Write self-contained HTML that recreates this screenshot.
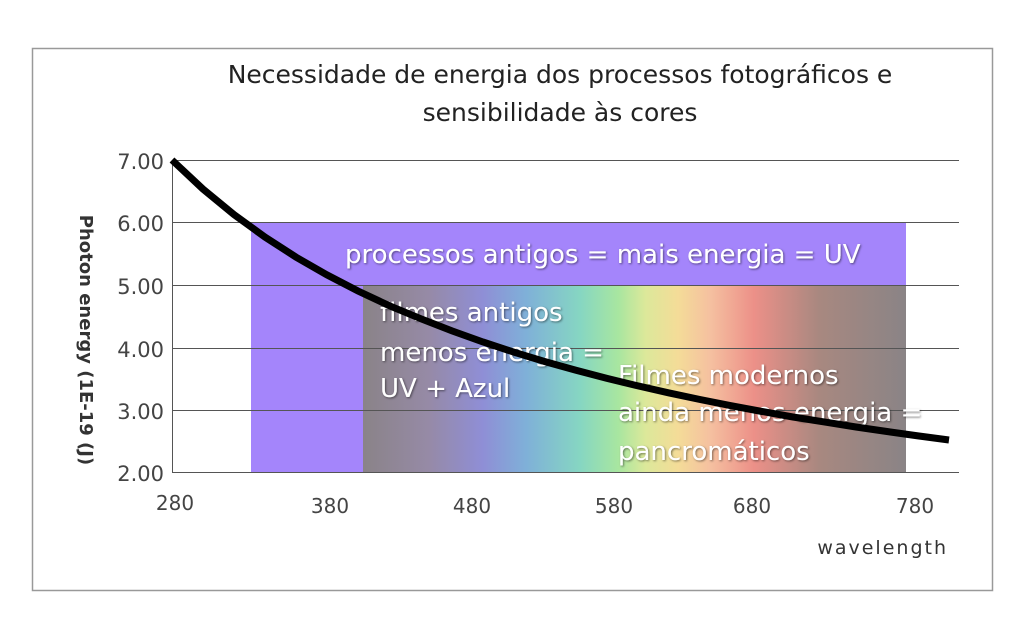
<!DOCTYPE html>
<html><head><meta charset="utf-8"><style>
body{margin:0;background:#fff;}
</style></head><body>
<svg width="1024" height="640" xmlns="http://www.w3.org/2000/svg" style="display:block;font-family:'DejaVu Sans','Liberation Sans',sans-serif">
<defs>
<linearGradient id="g" x1="0" x2="1" y1="0" y2="0">
<stop offset="0" stop-color="#8a8388"/>
<stop offset="0.12" stop-color="#968aa6"/>
<stop offset="0.22" stop-color="#8f8ed6"/>
<stop offset="0.30" stop-color="#7fb0d8"/>
<stop offset="0.40" stop-color="#86d6c2"/>
<stop offset="0.47" stop-color="#a8e6a0"/>
<stop offset="0.52" stop-color="#dce89a"/>
<stop offset="0.58" stop-color="#f4dc98"/>
<stop offset="0.64" stop-color="#f5c0a0"/>
<stop offset="0.72" stop-color="#ec9088"/>
<stop offset="0.84" stop-color="#a88880"/>
<stop offset="1" stop-color="#8a8486"/>
</linearGradient>
<filter id="sh"><feDropShadow dx="1" dy="1" stdDeviation="1" flood-color="#000" flood-opacity="0.5"/></filter>
</defs>
<rect x="32.5" y="48.5" width="960" height="542" fill="#fff" stroke="#999" stroke-width="1.5"/>
<text x="560" y="83" font-size="25" text-anchor="middle" fill="#222">Necessidade de energia dos processos fotográficos e</text>
<text x="560" y="121" font-size="25" text-anchor="middle" fill="#222">sensibilidade às cores</text>
<rect x="251" y="222" width="655" height="250" fill="#a485fb"/>
<rect x="363" y="285" width="543" height="187" fill="url(#g)"/>
<g stroke="#555" stroke-width="1">
<line x1="172" y1="160.5" x2="959" y2="160.5"/>
<line x1="172" y1="222.5" x2="959" y2="222.5"/>
<line x1="172" y1="285.5" x2="959" y2="285.5"/>
<line x1="172" y1="348.5" x2="959" y2="348.5"/>
<line x1="172" y1="410.5" x2="959" y2="410.5"/>
<line x1="172" y1="472.5" x2="959" y2="472.5"/>
<line x1="172.5" y1="160" x2="172.5" y2="472"/>
</g>
<g font-size="21" fill="#444" text-anchor="end">
<text x="164" y="169">7.00</text><text x="164" y="231">6.00</text><text x="164" y="294">5.00</text>
<text x="164" y="357">4.00</text><text x="164" y="419">3.00</text><text x="164" y="481">2.00</text>
</g>
<g font-size="20" fill="#444" text-anchor="middle">
<text x="175" y="510">280</text><text x="330" y="513">380</text><text x="472" y="513">480</text>
<text x="614" y="513">580</text><text x="752" y="513">680</text><text x="915" y="513">780</text>
</g>
<text x="948" y="554" font-size="19" fill="#333" text-anchor="end" letter-spacing="2">wavelength</text>
<text transform="translate(80,340) rotate(90)" font-size="18" font-weight="bold" fill="#333" text-anchor="middle">Photon energy (1E-19 (J)</text>
<g font-size="26" fill="#fff" filter="url(#sh)">
<text x="345" y="263">processos antigos = mais energia = UV</text>
<text x="380" y="321">filmes antigos</text>
<text x="380" y="361">menos energia =</text>
<text x="380" y="397">UV + Azul</text>
<text x="618" y="384">Filmes modernos</text>
<text x="618" y="421">ainda menos energia =</text>
<text x="618" y="460">pancromáticos</text>
</g>
<polyline fill="none" stroke="#000" stroke-width="7" points="172,160 203,189.1 234,214.6 265,237.1 296,257.1 327,274.9 358,291 389,305.6 421,318.8 452,330.9 483,342 514,352.2 545,361.6 576,370.3 607,378.4 638,385.9 669,392.9 700,399.5 731,405.7 762,411.5 793,417 825,422.1 856,427 887,431.5 918,435.9 949,440"/>
</svg>
</body></html>
